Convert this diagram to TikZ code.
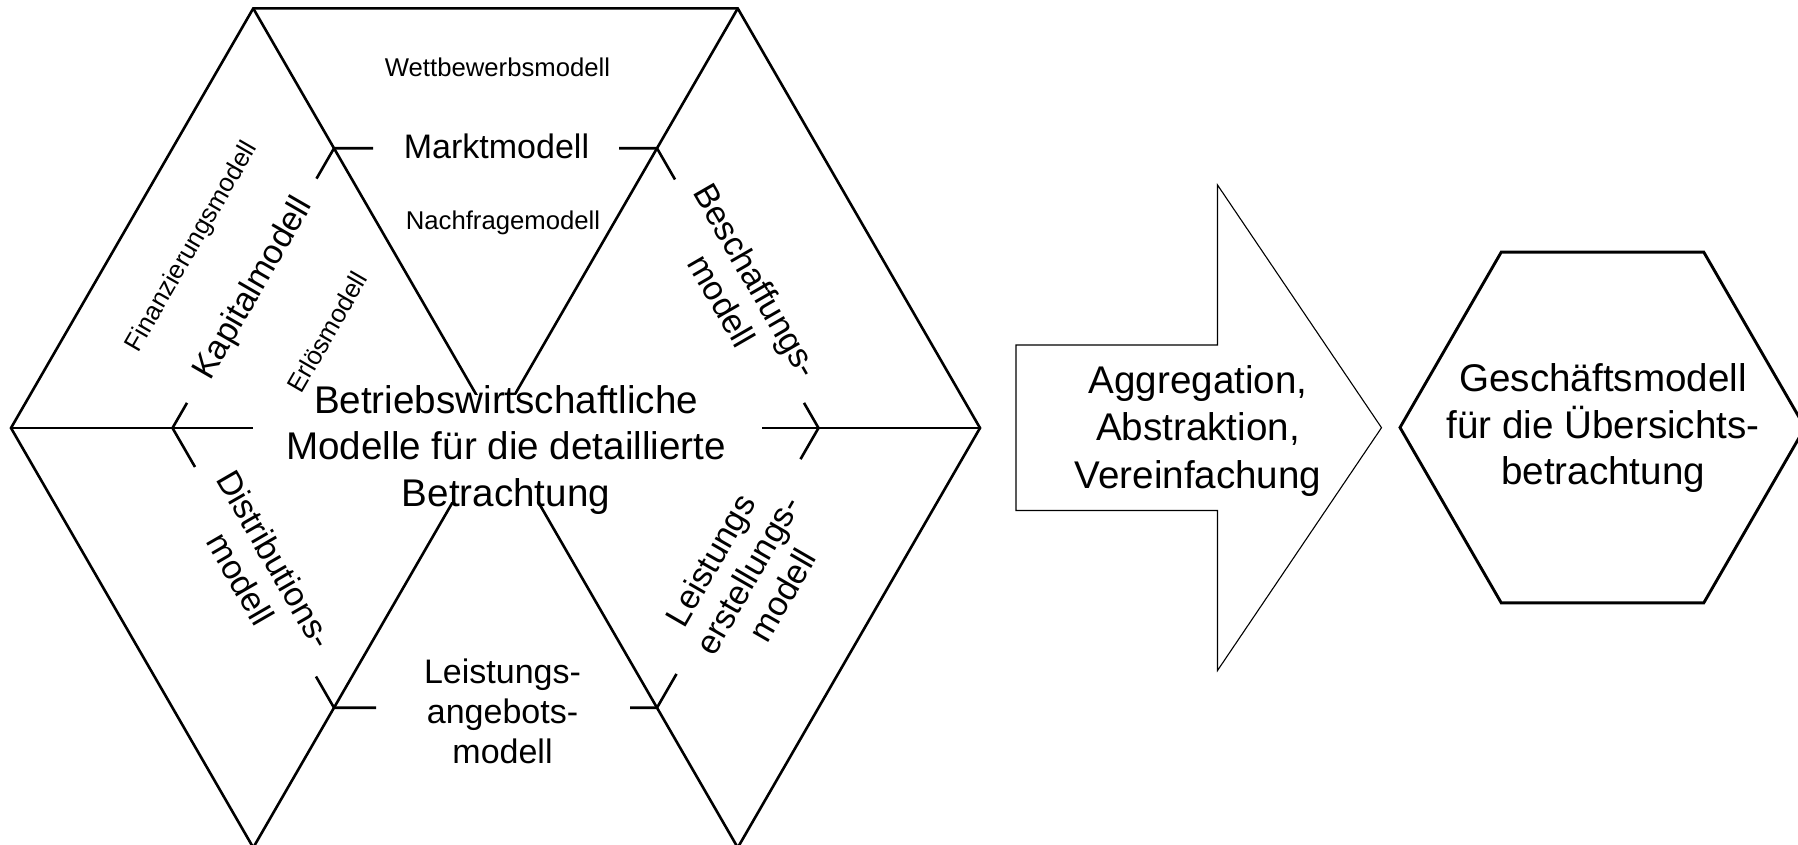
\documentclass[tikz,border=0pt]{standalone}
\usepackage{fontspec}
\setmainfont{Liberation Sans}
\usetikzlibrary{calc}
\begin{document}
\begin{tikzpicture}[x=0.5pt,y=-0.5pt,
  hexline/.style={line width=1.3pt},
  thinline/.style={line width=0.55pt},
  boldhex/.style={line width=1.45pt, line join=miter},
  smalllbl/.style={inner sep=0pt, font=\fontsize{12.85pt}{15.4pt}\selectfont},
  biglbl/.style={inner sep=0pt, align=center, font=\fontsize{17pt}{20pt}\selectfont},
  mainlbl/.style={inner sep=0pt, align=center, font=\fontsize{19.3pt}{23.2pt}\selectfont},
  arrowlbl/.style={inner sep=0pt, align=center, font=\fontsize{19.3pt}{23.8pt}\selectfont},
  mask/.style={fill=white, inner sep=0pt}]
\useasboundingbox (0,0) rectangle (1798,845);
\fill[white] (0,0) rectangle (1798,845);

% outer hexagon corners and centre
\coordinate (C)    at (495.5,428);
\coordinate (O0)   at (980,428);
\coordinate (O60)  at (737.75,8.4);
\coordinate (O120) at (253.25,8.4);
\coordinate (O180) at (11,428);
\coordinate (O240) at (253.25,847.6);
\coordinate (O300) at (737.75,847.6);
% inner hexagon corners (two thirds of the way out)
\coordinate (J0)   at (818.5,428);
\coordinate (J60)  at (657,148.3);
\coordinate (J120) at (334,148.3);
\coordinate (J180) at (172.5,428);
\coordinate (J240) at (334,707.7);
\coordinate (J300) at (657,707.7);

% outer hexagon and its three diagonals
\draw[hexline] (O0) -- (O60) -- (O120) -- (O180) -- (O240) -- (O300) -- cycle;
\draw[hexline] (O180) -- (O0);
\draw[hexline] (O120) -- (O300);
\draw[hexline] (O60) -- (O240);

% short pieces of the inner hexagon at each corner
\draw[hexline] ($(J120)!19.5pt!(J60)$) -- (J120) -- ($(J120)!17.5pt!(J180)$);
\draw[hexline] ($(J60)!19pt!(J120)$) -- (J60) -- ($(J60)!18pt!(J0)$);
\draw[hexline] ($(J0)!14.5pt!(J60)$) -- (J0) -- ($(J0)!18pt!(J300)$);
\draw[hexline] ($(J180)!14.5pt!(J120)$) -- (J180) -- ($(J180)!22.5pt!(J240)$);
\draw[hexline] ($(J240)!18pt!(J180)$) -- (J240) -- ($(J240)!21pt!(J300)$);
\draw[hexline] ($(J300)!13.5pt!(J240)$) -- (J300) -- ($(J300)!19.5pt!(J0)$);

% white field behind the central caption
\node[mask, minimum width=254.5pt, minimum height=53.5pt] (core) at (507.5,448.5) {};

% labels of the six segments
\node[smalllbl, anchor=base] (wett) at (497.5,77) {Wettbewerbsmodell};
\node[biglbl, anchor=base] (markt) at (496.5,158.5) {Marktmodell};
\node[smalllbl, anchor=base] (nach) at (503,229.3) {Nachfragemodell};
\node[smalllbl, rotate=60] (fin) at (192,247) {Finanzierungsmodell};
\node[biglbl, rotate=60] (kap) at (254,289) {Kapitalmodell};
\node[smalllbl, rotate=60] (erl) at (327,332) {Erlösmodell};
\node[biglbl, rotate=-60] (besch) at (739.5,290.5) {Beschaffungs-\\modell};
\node[biglbl, rotate=-60] (dist) at (258,569) {Distributions-\\modell};
\node[biglbl, rotate=60] (erst) at (747.5,575) {Leistungs\phantom{-}\\erstellungs-\\modell};
\node[biglbl] (angebot) at (502.5,711.4) {Leistungs-\\angebots-\\modell};

% central caption
\node[mainlbl] (coretext) at (506,450) {Betriebswirtschaftliche\\Modelle für die detaillierte\\Betrachtung};

% block arrow with its caption
\draw[thinline] (1016,345) -- (1217.5,345) -- (1217.5,185) -- (1381.5,427.7)
  -- (1217.5,670.5) -- (1217.5,510.5) -- (1016,510.5) -- cycle;
\node[arrowlbl] (agg) at (1198,431) {Aggregation,\\Abstraktion,\\Vereinfachung};

% overview hexagon
\draw[boldhex] (1805,427.5) -- (1703.75,252.1) -- (1501.25,252.1) -- (1400,427.5)
  -- (1501.25,602.9) -- (1703.75,602.9) -- cycle;
\node[mainlbl] (gm) at (1603,428.4) {Geschäftsmodell\\für die Übersichts-\\betrachtung};
\end{tikzpicture}
\end{document}
